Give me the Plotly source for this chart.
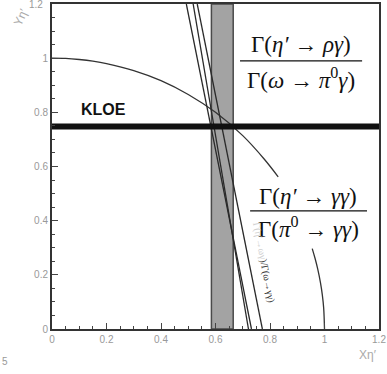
import plotly.graph_objects as go

# ---- data ----
arc1_x = [0.0, 0.05, 0.10, 0.15, 0.20, 0.30, 0.40, 0.50, 0.60, 0.70, 0.78, 0.83]
arc1_y = [1.0, 0.999, 0.995, 0.989, 0.980, 0.954, 0.917, 0.866, 0.800, 0.714, 0.626, 0.562]
arc2_x = [0.955, 0.965, 0.975, 0.985, 0.992, 0.997, 1.0]
arc2_y = [0.297, 0.262, 0.222, 0.172, 0.126, 0.077, 0.0]

line1_x = [0.493, 0.732]
line2_x = [0.518, 0.721]
line3_x = [0.533, 0.772]
line_y = [1.2, 0.0]

band_x = [0.585, 0.665]
kloe_y = 0.748

x_ticks = [0, 0.2, 0.4, 0.6, 0.8, 1.0, 1.2]
x_tick_text = ["0", "0.2", "0.4", "0.6", "0.8", "1", "1.2"]
y_ticks = [0, 0.2, 0.4, 0.6, 0.8, 1.0]
y_tick_text = ["0", "0.2", "0.4", "0.6", "0.8", "1"]
y_top_value = 1.2
y_top_text = "1.2"

fig = go.Figure()

# grey band
fig.add_trace(go.Scatter(
    x=[band_x[0], band_x[1], band_x[1], band_x[0], band_x[0]],
    y=[0, 0, 1.2, 1.2, 0], fill="toself", fillcolor="#a3a3a3",
    line=dict(color="#4a4a4a", width=1.5), mode="lines", hoverinfo="skip"))

# arcs
for ax, ay in [(arc1_x, arc1_y), (arc2_x, arc2_y)]:
    fig.add_trace(go.Scatter(x=ax, y=ay, mode="lines", line_shape="spline",
                             line=dict(color="#333333", width=1.3)))

# steep lines
for lx in [line1_x, line2_x, line3_x]:
    fig.add_trace(go.Scatter(x=lx, y=line_y, mode="lines",
                             line=dict(color="#2a2a2a", width=1.3)))

# KLOE horizontal line
fig.add_trace(go.Scatter(x=[0, 1.2], y=[kloe_y, kloe_y], mode="lines",
                         line=dict(color="#111111", width=6)))

serif = "Liberation Serif, Times New Roman, serif"
sans = "Liberation Sans, Arial"
ann = []
ann.append(dict(x=0.19, y=0.81, text="<b>KLOE</b>", showarrow=False,
                font=dict(family=sans, size=16, color="#111")))
ann.append(dict(x=0.912, y=1.052, text="Γ(<i>η′</i> → <i>ργ</i>)", showarrow=False,
                font=dict(family=serif, size=23, color="#111")))
ann.append(dict(x=0.912, y=0.925, text="Γ(<i>ω</i> → <i>π</i><sup>0</sup><i>γ</i>)", showarrow=False,
                font=dict(family=serif, size=23, color="#111")))
ann.append(dict(x=0.94, y=0.488, text="Γ(<i>η′</i> → <i>γγ</i>)", showarrow=False,
                font=dict(family=serif, size=23, color="#111")))
ann.append(dict(x=0.94, y=0.375, text="Γ(<i>π</i><sup>0</sup> → <i>γγ</i>)", showarrow=False,
                font=dict(family=serif, size=23, color="#111")))
ann.append(dict(x=0.778, y=0.245, text="<span style='color:#d0d0d0'>Γ(η′→ωγ</span>)/Γ(ω→γγ)",
                showarrow=False, textangle=79,
                font=dict(family=serif, size=10, color="#333")))
ann.append(dict(xref="paper", yref="y", x=-0.022, y=y_top_value, text=y_top_text,
                xanchor="right", yanchor="middle", showarrow=False,
                font=dict(family=sans, size=10, color="#999")))
ann.append(dict(xref="paper", yref="paper", x=-0.095, y=0.96, text="Yη′",
                xanchor="center", yanchor="middle",
                showarrow=False, textangle=-65,
                font=dict(family=sans, size=12, color="#aaaaaa")))
ann.append(dict(xref="paper", yref="paper", x=0.966, y=-0.08, text="Xη′",
                xanchor="center", yanchor="middle",
                showarrow=False,
                font=dict(family=sans, size=12, color="#aaaaaa")))
ann.append(dict(xref="paper", yref="paper", x=-0.145, y=-0.10, text="5",
                xanchor="center", yanchor="middle",
                showarrow=False,
                font=dict(family=sans, size=10, color="#999999")))

fig.update_layout(
    width=387, height=374,
    margin=dict(l=52, r=8, t=4, b=45, autoexpand=False),
    paper_bgcolor="white", plot_bgcolor="white",
    showlegend=False,
    annotations=ann,
    shapes=[
        dict(type="line", xref="x", yref="y", x0=0.69, x1=1.138, y0=0.99, y1=0.99,
             line=dict(color="#111", width=1.3)),
        dict(type="line", xref="x", yref="y", x0=0.727, x1=1.156, y0=0.436, y1=0.436,
             line=dict(color="#111", width=1.3)),
    ],
    xaxis=dict(range=[0, 1.2], tickvals=x_ticks, ticktext=x_tick_text, automargin=False,
               ticks="inside", ticklen=6, tickcolor="#444", showgrid=False,
               zeroline=False, showline=True, linecolor="#333", linewidth=2,
               mirror=True, tickfont=dict(family=sans, size=10, color="#999"),
               minor=dict(dtick=0.05, ticks="inside", ticklen=3, tickcolor="#444", showgrid=False)),
    yaxis=dict(range=[0, 1.2], tickvals=y_ticks, ticktext=y_tick_text, automargin=False,
               ticks="inside", ticklen=6, tickcolor="#444", showgrid=False,
               zeroline=False, showline=True, linecolor="#333", linewidth=2,
               mirror=True, tickfont=dict(family=sans, size=10, color="#999"),
               minor=dict(dtick=0.05, ticks="inside", ticklen=3, tickcolor="#444", showgrid=False)),
)

fig.write_html("out.html", config={"displayModeBar": False},
               post_script="document.body.style.margin='0';document.body.style.overflow='hidden';")
